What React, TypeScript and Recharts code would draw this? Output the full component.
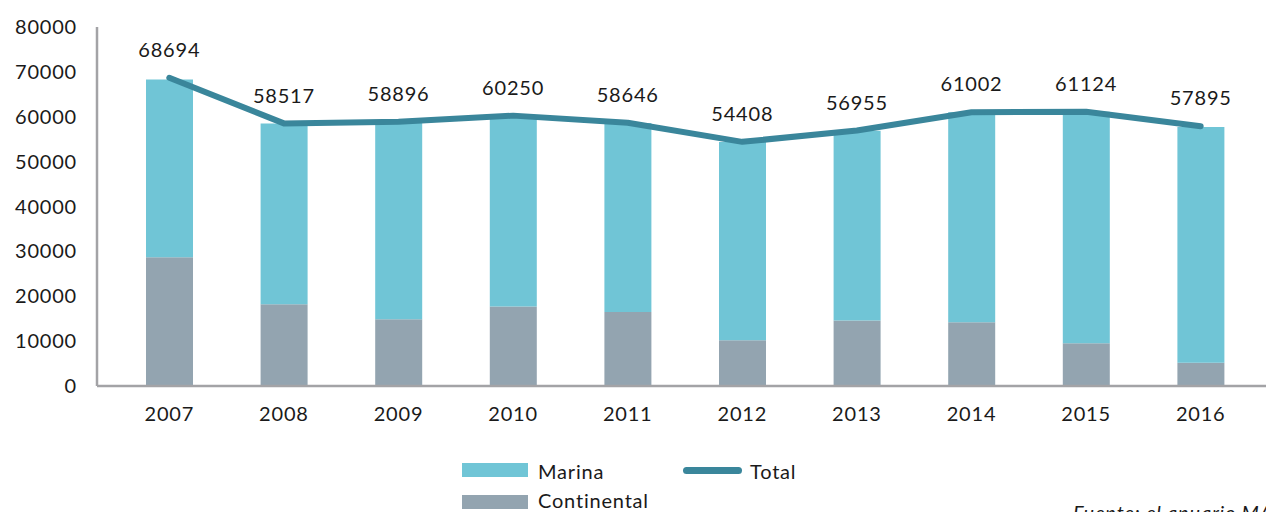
import { Bar, ComposedChart, LabelList, Line, XAxis, YAxis } from "recharts";

const years = ["2007", "2008", "2009", "2010", "2011", "2012", "2013", "2014", "2015", "2016"];
const continental = [28700, 18200, 14900, 17700, 16500, 10200, 14600, 14200, 9500, 5200];
const marina = [39600, 40300, 44000, 42500, 42100, 44200, 42300, 46800, 51600, 52500];
const total = [68694, 58517, 58896, 60250, 58646, 54408, 56955, 61002, 61124, 57895];
const yTicks = [0, 10000, 20000, 30000, 40000, 50000, 60000, 70000, 80000];

const MARINA = "#70c5d6";
const CONT = "#93a4b0";
const LINE = "#3a869b";
const AXIS = "#a3a3a6";
const FONT = "Lato, 'Open Sans', sans-serif";

const data = years.map((year, i) => ({
  year,
  continental: continental[i],
  marina: marina[i],
  total: total[i],
}));

const tickStyle = { fill: "#1a1a1a", fontSize: 20, fontFamily: FONT, letterSpacing: 0.8 };

function TotalLabel(props: any) {
  const { x, y, value } = props;
  return (
    <text x={x} y={y - 28} dy="0.355em" textAnchor="middle" style={tickStyle} fill="#1a1a1a">
      {value}
    </text>
  );
}

export default function App() {
  const txt = { fontFamily: FONT, fontSize: 20, color: "#1a1a1a", letterSpacing: 0.8, lineHeight: "20px" };
  return (
    <div style={{ position: "absolute", left: 0, top: 0, width: 1266, height: 512, background: "#fff", overflow: "hidden" }}>
      <ComposedChart width={1266} height={512} data={data} margin={{ top: 27, right: 0, left: 0, bottom: 96 }}>
        <XAxis
          dataKey="year"
          height={30}
          tickLine={false}
          tickMargin={15}
          padding={{ left: 15, right: 8 }}
          axisLine={{ stroke: AXIS, strokeWidth: 2.5 }}
          tick={tickStyle}
          interval={0}
        />
        <YAxis
          width={97}
          domain={[0, 80000]}
          ticks={yTicks}
          tickLine={false}
          tickMargin={14}
          axisLine={{ stroke: AXIS, strokeWidth: 2.5 }}
          tick={tickStyle}
          interval={0}
        />
        <Bar dataKey="continental" stackId="a" fill={CONT} barSize={47} isAnimationActive={false} />
        <Bar dataKey="marina" stackId="a" fill={MARINA} barSize={47} isAnimationActive={false} />
        <Line
          dataKey="total"
          stroke={LINE}
          strokeWidth={6}
          strokeLinecap="round"
          strokeLinejoin="round"
          dot={false}
          activeDot={false}
          isAnimationActive={false}
        >
          <LabelList dataKey="total" content={<TotalLabel />} />
        </Line>
      </ComposedChart>

      {/* legend */}
      <div style={{ position: "absolute", left: 462, top: 463, width: 66, height: 14, background: MARINA }} />
      <div style={{ ...txt, position: "absolute", left: 538, top: 461 }}>Marina</div>
      <div style={{ position: "absolute", left: 683, top: 467, width: 59, height: 7, borderRadius: 4, background: LINE }} />
      <div style={{ ...txt, position: "absolute", left: 750, top: 461 }}>Total</div>
      <div style={{ position: "absolute", left: 462, top: 495, width: 66, height: 14, background: CONT }} />
      <div style={{ ...txt, position: "absolute", left: 538, top: 490 }}>Continental</div>

      <div style={{ ...txt, position: "absolute", left: 1073, top: 502, fontStyle: "italic", whiteSpace: "nowrap" }}>
        Fuente: el anuario MAPAMA
      </div>
    </div>
  );
}
